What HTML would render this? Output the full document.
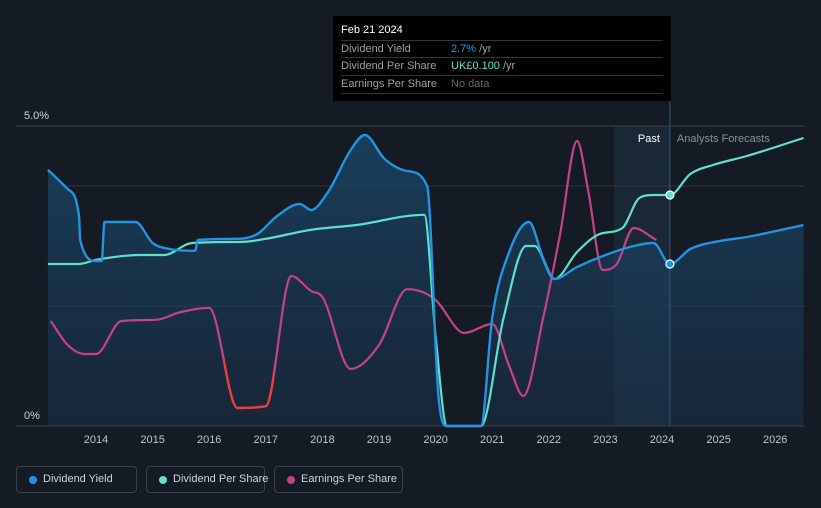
<!DOCTYPE html>
<html><head><meta charset="utf-8"><style>
body{margin:0;background:#151b24;font-family:"Liberation Sans",sans-serif;}
#wrap{position:relative;width:821px;height:508px;overflow:hidden;background:#151b24}
.tip{position:absolute;left:333px;top:16px;width:338px;height:85px;background:#000;color:#fff;font-size:11px}
.tip .row{position:absolute;left:8px;width:322px;border-top:1px solid #333;height:17px;line-height:17px;color:#9aa0a8}
.leg{position:absolute;top:466px;height:27px;border:1px solid #3a414c;border-radius:4px;color:#d0d4da;font-size:11px;line-height:25px;box-sizing:border-box;padding-left:26px;white-space:nowrap}
.leg i{position:absolute;left:12px;top:9px;width:8px;height:8px;border-radius:50%}
</style></head><body><div id="wrap">
<svg id="svg" width="821" height="508" style="position:absolute;left:0;top:0"></svg>
<div class="tip">
<div style="position:absolute;left:8px;top:8px;font-size:11px;color:#fff">Feb 21 2024</div>
<div class="row" style="top:24px">Dividend Yield<span style="position:absolute;left:110px;color:#2394df">2.7% <span style="color:#9aa0a8">/yr</span></span></div>
<div class="row" style="top:41px">Dividend Per Share<span style="position:absolute;left:110px;color:#5fe0cb">UK£0.100 <span style="color:#9aa0a8">/yr</span></span></div>
<div class="row" style="top:59px;border-bottom:1px solid #333">Earnings Per Share<span style="position:absolute;left:110px;color:#666">No data</span></div>
</div>
<div class="leg" style="left:16px;width:121px"><i style="background:#2394df"></i>Dividend Yield</div>
<div class="leg" style="left:146px;width:119px"><i style="background:#5fe0cb"></i>Dividend Per Share</div>
<div class="leg" style="left:274px;width:129px"><i style="background:#c64189"></i>Earnings Per Share</div>
</div>
<script>
const yieldX=[2013.15,2013.5,2013.7,2013.72,2014.0,2014.1,2014.15,2014.7,2015.0,2015.3,2015.75,2015.8,2016.5,2016.85,2017.2,2017.6,2017.8,2018.1,2018.5,2018.75,2019.1,2019.5,2019.85,2020.05,2020.2,2020.8,2021.0,2021.3,2021.65,2021.9,2022.1,2022.5,2023.0,2023.5,2023.85,2024.14,2024.5,2025.0,2025.5,2026.5];
const yieldV=[4.27,3.95,3.5,3.1,2.75,2.75,3.4,3.4,3.05,2.95,2.92,3.1,3.12,3.2,3.5,3.7,3.6,3.9,4.6,4.85,4.45,4.25,4.0,0.5,0,0,1.8,2.9,3.4,2.8,2.45,2.65,2.85,3.0,3.05,2.7,2.95,3.08,3.15,3.35];
const dpsX=[2013.15,2013.7,2014.0,2014.8,2015.2,2015.7,2016.6,2017.0,2017.8,2018.6,2019.8,2020.0,2020.2,2020.8,2021.2,2021.6,2021.75,2022.1,2022.5,2022.9,2023.3,2023.6,2023.85,2024.14,2024.5,2024.9,2025.5,2026.5];
const dpsV=[2.7,2.7,2.77,2.85,2.85,3.05,3.07,3.12,3.27,3.35,3.52,1.5,0,0,1.8,3.0,3.0,2.45,2.9,3.2,3.3,3.8,3.85,3.85,4.2,4.35,4.5,4.8];
const epsX=[2013.2,2013.5,2013.8,2014.0,2014.45,2015.05,2015.5,2016.0,2016.5,2017.0,2017.45,2017.8,2018.0,2018.5,2019.0,2019.5,2020.0,2020.4,2020.5,2021.0,2021.3,2021.55,2021.9,2022.2,2022.5,2022.7,2022.95,2023.2,2023.5,2023.9];
const epsV=[1.75,1.35,1.2,1.2,1.75,1.77,1.9,1.97,0.3,0.33,2.5,2.25,2.15,0.95,1.35,2.28,2.1,1.6,1.55,1.7,1.0,0.5,1.8,3.2,4.75,3.9,2.6,2.7,3.3,3.1];
const xTicks=[2014,2015,2016,2017,2018,2019,2020,2021,2022,2023,2024,2025,2026];
const yTicks=[0,5];
const yTickLabels=["0%","5.0%"];
const sx=y=>96+(y-2014)*56.6, sy=v=>426-v*60;
const NS="http://www.w3.org/2000/svg",svg=document.getElementById('svg');
function el(t,a,p){const e=document.createElementNS(NS,t);for(const k in a)e.setAttribute(k,a[k]);(p||svg).appendChild(e);return e;}
function path(X,V){const p=X.map((x,i)=>[sx(x),sy(V[i])]);const n=p.length;
const d=[],m=new Array(n);for(let i=0;i<n-1;i++)d.push((p[i+1][1]-p[i][1])/(p[i+1][0]-p[i][0]));
m[0]=d[0];m[n-1]=d[n-2];for(let i=1;i<n-1;i++){m[i]=(d[i-1]*d[i]<=0)?0:(d[i-1]+d[i])/2;}
for(let i=0;i<n-1;i++){if(d[i]===0){m[i]=0;m[i+1]=0;continue;}const a=m[i]/d[i],b=m[i+1]/d[i],s=a*a+b*b;if(s>9){const t=3/Math.sqrt(s);m[i]=t*a*d[i];m[i+1]=t*b*d[i];}}
let s=`M${p[0][0]},${p[0][1]}`;
for(let i=0;i<n-1;i++){const h=(p[i+1][0]-p[i][0])/3;
s+=`C${p[i][0]+h},${p[i][1]+m[i]*h} ${p[i+1][0]-h},${p[i+1][1]-m[i+1]*h} ${p[i+1][0]},${p[i+1][1]}`;}return s;}
const defs=el('defs',{});
defs.innerHTML='<linearGradient id="g" x1="0" y1="0" x2="0" y2="1"><stop offset="0" stop-color="#1a4a6e" stop-opacity="0.75"/><stop offset="1" stop-color="#1a3550" stop-opacity="0.45"/></linearGradient><clipPath id="red"><rect x="'+sx(2016.25)+'" y="0" width="'+(sx(2017.15)-sx(2016.25))+'" height="508"/></clipPath>';
let r=el('rect',{x:sx(2023.15),y:126,width:sx(2024.14)-sx(2023.15),height:300,fill:'#1b2a3a',opacity:0.8});

[186,306].forEach(y=>el('line',{x1:48,x2:805,y1:y,y2:y,stroke:'#2e3540','stroke-width':1}));
yTicks.forEach((v,i)=>{el('line',{x1:16,x2:805,y1:sy(v),y2:sy(v),stroke:'#3c434e'});
const t=el('text',{x:24,y:sy(v)-7,fill:'#d0d4da','font-size':11});t.textContent=yTickLabels[i];
});
xTicks.forEach(y=>{const t=el('text',{x:sx(y),y:443,fill:'#c0c4ca','font-size':11,'text-anchor':'middle'});t.textContent=y;
});
const yd=path(yieldX,yieldV);
const area=el('path',{d:yd+`L${sx(yieldX[yieldX.length-1])},426L${sx(yieldX[0])},426Z`,fill:'url(#g)'});

el('line',{x1:sx(2024.14),x2:sx(2024.14),y1:100,y2:426,stroke:'#2a5a80','stroke-width':1});
let pt=el('text',{x:sx(2024.14)-10,y:142,fill:'#fff','font-size':11,'text-anchor':'end'});pt.textContent='Past';

let af=el('text',{x:sx(2024.14)+7,y:142,fill:'#8a9098','font-size':11});af.textContent='Analysts Forecasts';

const ed=path(epsX,epsV);
let e1=el('path',{d:ed,fill:'none',stroke:'#c64189','stroke-width':2.2});

el('path',{d:ed,fill:'none',stroke:'#e8403f','stroke-width':2.4,'clip-path':'url(#red)'});
let l2=el('path',{d:path(dpsX,dpsV),fill:'none',stroke:'#5fe0cb','stroke-width':2.2});

let l1=el('path',{d:yd,fill:'none',stroke:'#2394df','stroke-width':2.4});

let c1=el('circle',{cx:sx(2024.14),cy:sy(yieldV[yieldX.indexOf(2024.14)]),r:4,fill:'#2394df',stroke:'#fff','stroke-width':1.2});

let c2=el('circle',{cx:sx(2024.14),cy:sy(dpsV[dpsX.indexOf(2024.14)]),r:4,fill:'#5fe0cb',stroke:'#fff','stroke-width':1.2});

</script></body></html>
